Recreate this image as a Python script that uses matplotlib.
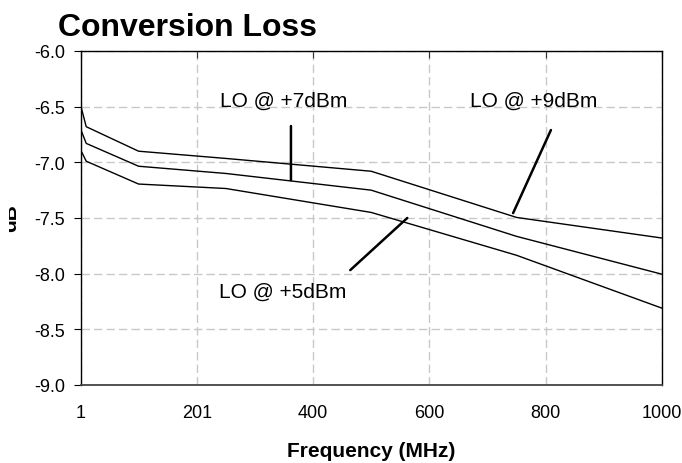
import matplotlib as mpl
mpl.use('Agg')
import matplotlib.pyplot as plt
from matplotlib.transforms import Bbox

plt.rcParams['font.family'] = ['Liberation Sans', 'DejaVu Sans']

# frequency points (MHz) and conversion loss (dB) per LO drive
freq = [1, 10, 100, 250, 500, 750, 1000]
lo_9dbm = [-6.50, -6.68, -6.90, -6.965, -7.08, -7.495, -7.68]
lo_7dbm = [-6.71, -6.83, -7.035, -7.10, -7.25, -7.665, -8.005]
lo_5dbm = [-6.895, -6.99, -7.195, -7.235, -7.45, -7.835, -8.31]

xticks = [1, 201, 400, 600, 800, 1000]
yticks = [-6.0, -6.5, -7.0, -7.5, -8.0, -8.5, -9.0]

fig = plt.figure(figsize=(6.82, 4.64), dpi=100)
ax = fig.add_axes([81/682, 1-386/464, 581/682, 334/464])

for ys in (lo_9dbm, lo_7dbm, lo_5dbm):
    ax.plot(freq, ys, color='black', linewidth=1.0, zorder=3)

ax.set_xlim(1, 1000)
ax.set_ylim(-9.0, -6.0)
ax.set_xticks(xticks)
ax.set_xticklabels([str(t) for t in xticks])
ax.set_yticks(yticks)
ax.set_yticklabels(['%.1f' % t for t in yticks])

ax.grid(True, color='#c8c8c8', linestyle=(0, (6, 3)), linewidth=1.0)
for s in ax.spines.values():
    s.set_color('black')
    s.set_linewidth(1.0)
ax.spines['bottom'].set_color('#444444')
ax.spines['bottom'].set_linewidth(1.3)

ax.tick_params(axis='x', bottom=False, top=True, direction='in', length=5,
               labelsize=13, pad=14, color='#333333')
ax.tick_params(axis='y', direction='out', length=5, labelsize=13, pad=6.5)

ax.set_xlabel('Frequency (MHz)', fontsize=15, fontweight='bold', labelpad=14)

# y label is partly clipped in the original
ylab = fig.text(20/682, 1-218/464, 'dB', rotation=90, ha='right', va='center',
                fontsize=15, fontweight='bold')
ylab.set_clip_box(Bbox.from_extents(9, 0, 682, 464))
ylab.set_clip_on(True)

fig.text(58/682, 1-36/464, 'Conversion Loss', fontsize=23, fontweight='bold',
         ha='left', va='baseline')

arrow = dict(arrowstyle='-', color='black', linewidth=1.8, shrinkA=0, shrinkB=0)
ax.text(350, -6.44, 'LO @ +7dBm', fontsize=15, ha='center', va='center')
ax.annotate('', xy=(362, -7.16), xytext=(362, -6.674), arrowprops=arrow)
ax.text(780, -6.44, 'LO @ +9dBm', fontsize=15, ha='center', va='center')
ax.annotate('', xy=(744, -7.456), xytext=(809, -6.71), arrowprops=arrow)
ax.text(347, -8.16, 'LO @ +5dBm', fontsize=15, ha='center', va='center')
ax.annotate('', xy=(562, -7.50), xytext=(464, -7.968), arrowprops=arrow)

plt.savefig('out.png', dpi=100)
